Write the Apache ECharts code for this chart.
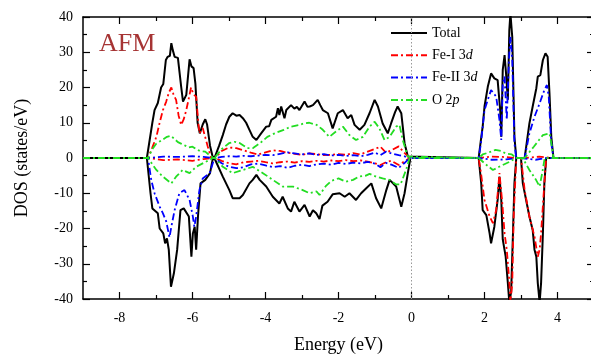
<!DOCTYPE html>
<html>
<head>
<meta charset="utf-8">
<script src="https://cdn.jsdelivr.net/npm/echarts@6/dist/echarts.min.js"></script>
<style>html,body{margin:0;padding:0;background:#fff;}#c{width:591px;height:356px;}</style>
</head>
<body>
<div id="c"></div>
<script>
// ---- tick labels ----
var xMajorTicks = [-8, -6, -4, -2, 0, 2, 4];
var xMinorTicks = [-7, -5, -3, -1, 1, 3];
var legendNames = ['Total', 'Fe-I 3d', 'Fe-II 3d', 'O 2p'];

// ---- data: [energy (eV), DOS (states/eV)] ----
var totalUp = [[-9,0],[-7.25,0],[-7.1,10],[-7.04,13.6],[-6.95,15.6],[-6.86,20],[-6.8,21],[-6.77,21.5],[-6.73,27.8],[-6.68,28.7],[-6.62,29],[-6.58,32.6],[-6.54,30.6],[-6.49,28.7],[-6.4,28.4],[-6.31,20.2],[-6.26,16],[-6.17,17.9],[-6.08,28],[-6.03,26],[-5.97,25.5],[-5.92,21],[-5.86,10],[-5.8,7],[-5.72,9.5],[-5.65,11],[-5.6,9.5],[-5.52,3.5],[-5.44,0],
 [-5.38,0.5],[-5.27,3.5],[-5.17,6.5],[-5.08,9.5],[-4.99,11.7],[-4.9,12.7],[-4.8,12.0],[-4.71,12.2],[-4.62,11.3],[-4.53,10],[-4.44,8],[-4.35,6],[-4.25,5.1],[-4.12,7],[-3.98,8.9],[-3.9,9],[-3.84,10.8],[-3.71,11.7],[-3.66,14.1],[-3.62,12.2],[-3.57,14.6],[-3.48,11.3],[-3.43,13.6],[-3.3,15],[-3.21,14],[-3.14,14.5],[-3.07,13.6],[-2.93,16],[-2.85,14.5],[-2.79,14.6],[-2.7,15],[-2.57,16.5],[-2.5,15],[-2.43,13.6],[-2.29,12.7],[-2.16,8.4],[-2.02,12.7],[-1.88,13.6],[-1.75,11.3],[-1.65,12.2],[-1.56,9.4],[-1.42,8],[-1.29,9.4],[-1.15,12.7],[-1.01,16.5],[-0.92,14.6],[-0.79,9.8],[-0.65,7],[-0.56,9.8],[-0.45,13],[-0.38,14.6],[-0.28,12.7],[-0.19,4.2],[-0.1,0.4],[-0.05,0],
 [1.84,0],[1.9,5],[1.95,8.9],[2.0,14.6],[2.09,20.2],[2.18,24],[2.27,22.6],[2.36,22.1],[2.43,13.6],[2.46,6],[2.5,25],[2.55,29.2],[2.59,24],[2.64,16.5],[2.68,36.3],[2.71,41],[2.76,34.4],[2.82,6],[2.87,0],[3.1,0],[3.23,9.8],[3.32,14.6],[3.42,19.8],[3.46,23.1],[3.53,23.5],[3.6,27.8],[3.67,29.7],[3.73,28.7],[3.78,18.4],[3.83,6],[3.89,0],[5,0]];

var totalDn = [[-9,0],[-7.25,0],[-7.15,-10],[-7.1,-14.3],[-6.95,-15.7],[-6.9,-20],[-6.8,-21.4],[-6.75,-24.2],[-6.7,-22.8],[-6.65,-26],[-6.59,-36.5],[-6.51,-32.7],[-6.42,-26],[-6.33,-14.8],[-6.24,-14.3],[-6.1,-16.6],[-6.03,-28],[-5.99,-21.4],[-5.94,-19.5],[-5.9,-26],[-5.85,-16.6],[-5.78,-7.2],[-5.65,-6.2],[-5.52,-4.3],[-5.44,0],
 [-5.38,-0.5],[-5.17,-5.3],[-4.99,-9.1],[-4.9,-11.4],[-4.71,-11.4],[-4.62,-10.5],[-4.44,-7.2],[-4.35,-6.2],[-4.25,-4.8],[-4.16,-6.2],[-3.98,-8.1],[-3.8,-11],[-3.62,-12.9],[-3.53,-11],[-3.39,-14.3],[-3.3,-15.2],[-3.21,-12.4],[-3.07,-15.2],[-2.93,-13.3],[-2.79,-16.6],[-2.7,-14.8],[-2.61,-15.7],[-2.52,-17.3],[-2.44,-13.5],[-2.3,-12.4],[-2.16,-10.3],[-1.97,-10],[-1.83,-11],[-1.7,-10],[-1.52,-11.9],[-1.38,-10],[-1.24,-8.6],[-1.1,-7.2],[-0.97,-11.4],[-0.83,-14.3],[-0.69,-9.1],[-0.6,-6.2],[-0.42,-8.1],[-0.28,-13.8],[-0.19,-10],[-0.1,-4.3],[-0.03,0],
 [1.84,0],[1.91,-7.2],[1.95,-14.8],[2.05,-16.2],[2.14,-21.4],[2.18,-24.2],[2.27,-19.5],[2.36,-11.9],[2.41,-5.3],[2.46,-11.9],[2.5,-23.1],[2.58,-28],[2.64,-35.5],[2.68,-41],[2.73,-38],[2.78,-21.4],[2.82,-7.2],[2.87,0],[3.0,0],[3.05,-7.2],[3.14,-11.9],[3.23,-16.6],[3.32,-20.4],[3.37,-26],[3.42,-28],[3.46,-35.5],[3.51,-41],[3.55,-35.5],[3.6,-21.4],[3.64,-7.2],[3.69,0],[5,0]];

var fe1Up = [[-9,0],[-7.22,0],[-7.1,3],[-6.99,6],[-6.9,10],[-6.81,13.6],[-6.72,16],[-6.65,18.5],[-6.58,20],[-6.52,18],[-6.45,16.5],[-6.38,12],[-6.31,9.4],[-6.24,11],[-6.17,13.6],[-6.1,17],[-6.04,20],[-5.97,18],[-5.9,17.4],[-5.84,10],[-5.81,7],[-5.72,8.5],[-5.67,8.9],[-5.58,3.2],[-5.49,0],
 [-5.38,0],[-5.2,2.0],[-5.0,3.0],[-4.8,2.8],[-4.6,2.2],[-4.4,1.5],[-4.2,1.0],[-4.0,1.6],[-3.8,2.2],[-3.6,2.0],[-3.4,1.5],[-3.2,1.2],[-3.0,0.9],[-2.8,1.3],[-2.6,1.1],[-2.4,0.8],[-2.2,0.9],[-2.0,1.1],[-1.8,0.9],[-1.6,1.4],[-1.4,1.0],[-1.2,1.8],[-1.0,2.6],[-0.85,3.2],[-0.7,1.5],[-0.55,2.2],[-0.35,3.3],[-0.2,1.5],[-0.05,0],
 [1.84,0],[2.2,0.4],[2.5,0.3],[2.87,0],[3.1,0],[3.5,0.4],[3.89,0],[5,0]];

var fe1Dn = [[-9,0],[-7.22,0],[-6.8,-0.6],[-6.4,-0.4],[-6.0,-0.8],[-5.7,-0.3],[-5.44,0],
 [-5.38,0],[-5.2,-0.8],[-5.0,-1.5],[-4.8,-1.8],[-4.6,-1.2],[-4.4,-1.0],[-4.2,-0.8],[-4.0,-1.2],[-3.8,-1.5],[-3.6,-1.2],[-3.4,-1.0],[-3.2,-1.3],[-3.0,-0.9],[-2.8,-1.1],[-2.6,-0.8],[-2.4,-1.0],[-2.2,-0.7],[-2.0,-0.9],[-1.8,-0.6],[-1.6,-0.9],[-1.4,-0.7],[-1.2,-1.0],[-1.0,-1.5],[-0.85,-2.0],[-0.7,-1.2],[-0.55,-0.8],[-0.35,-2.0],[-0.2,-1.0],[-0.05,0],
 [1.84,0],[1.9,-4],[2.0,-11.9],[2.14,-16.6],[2.23,-18.5],[2.32,-14.8],[2.41,-4.3],[2.48,-11.9],[2.55,-21.4],[2.61,-26],[2.67,-33.7],[2.71,-41],[2.76,-35.5],[2.8,-16.6],[2.87,0],[3.0,0],[3.1,-9.1],[3.23,-16.6],[3.37,-22.3],[3.46,-28],[3.51,-26],[3.55,-21.4],[3.64,-7.2],[3.69,0],[5,0]];

var fe2Up = [[-9,0],[-7.22,0],[-6.8,0.4],[-6.4,0.3],[-6.0,0.5],[-5.7,0.3],[-5.44,0],
 [-5.38,0],[-5.2,0.3],[-5.0,0.5],[-4.8,0.4],[-4.6,0.6],[-4.4,0.5],[-4.2,0.7],[-4.0,0.9],[-3.8,0.8],[-3.6,1.2],[-3.4,1.6],[-3.2,1.3],[-3.0,1.0],[-2.8,1.3],[-2.6,0.9],[-2.4,1.1],[-2.2,0.7],[-2.0,0.9],[-1.8,0.6],[-1.6,0.8],[-1.4,0.5],[-1.2,0.9],[-1.0,1.5],[-0.85,0.8],[-0.7,1.8],[-0.55,1.3],[-0.35,0.8],[-0.2,0.5],[-0.05,0],
 [1.84,0],[1.9,4],[2.0,13.6],[2.09,16.5],[2.18,19.3],[2.32,17.4],[2.41,10.8],[2.46,5.1],[2.5,21.2],[2.55,23.1],[2.61,10.8],[2.67,27.8],[2.71,34.4],[2.76,27.8],[2.82,4.2],[2.87,0],[3.1,0],[3.23,7],[3.37,11.7],[3.51,15.5],[3.64,19.3],[3.71,20.7],[3.76,17.4],[3.83,4.2],[3.89,0],[5,0]];

var fe2Dn = [[-9,0],[-7.22,0],[-7.13,-6.2],[-7.04,-10],[-6.9,-13.8],[-6.81,-15.7],[-6.72,-18],[-6.63,-22.5],[-6.58,-19.5],[-6.49,-14.8],[-6.36,-10],[-6.22,-9.1],[-6.08,-11.9],[-5.99,-16.6],[-5.95,-19.5],[-5.9,-16.6],[-5.81,-9.1],[-5.72,-5.8],[-5.53,-4.3],[-5.4,0],
 [-5.38,0],[-5.2,-1.5],[-5.0,-2.5],[-4.8,-2.9],[-4.6,-2.6],[-4.4,-1.8],[-4.2,-1.6],[-4.0,-2.1],[-3.8,-2.6],[-3.6,-2.3],[-3.4,-2.8],[-3.2,-2.2],[-3.0,-1.9],[-2.8,-2.3],[-2.6,-1.8],[-2.4,-1.6],[-2.2,-1.9],[-2.0,-1.4],[-1.8,-1.7],[-1.6,-1.3],[-1.4,-1.5],[-1.2,-1.1],[-1.0,-1.6],[-0.85,-2.6],[-0.7,-1.4],[-0.55,-1.9],[-0.35,-2.8],[-0.2,-1.5],[-0.05,0],
 [1.84,0],[2.2,-0.5],[2.6,-0.4],[2.87,0],[3.0,0],[3.4,-0.5],[3.69,0],[5,0]];

var o2pUp = [[-9,0],[-7.22,0],[-7.1,2.5],[-7.0,4],[-6.85,5],[-6.7,6],[-6.6,6.3],[-6.5,5.5],[-6.4,4.5],[-6.3,4],[-6.2,3.5],[-6.1,3],[-6.0,3.2],[-5.9,2.5],[-5.8,2],[-5.65,1.8],[-5.5,0.5],[-5.4,0],
 [-5.38,0],[-5.2,2.5],[-5.0,4.2],[-4.85,4.6],[-4.7,4.2],[-4.5,2.8],[-4.35,2.8],[-4.15,4.2],[-3.95,6],[-3.75,7],[-3.5,8],[-3.3,8.9],[-3.1,9.3],[-2.95,9.8],[-2.8,10],[-2.6,9.4],[-2.43,8],[-2.25,6],[-2.07,7.5],[-1.88,8.9],[-1.7,6.5],[-1.52,5.1],[-1.33,6],[-1.15,8.9],[-1.01,10.3],[-0.88,8.4],[-0.74,5.1],[-0.6,6],[-0.42,8.9],[-0.33,9.4],[-0.24,5.1],[-0.1,0.4],[-0.05,0],
 [1.84,0],[1.95,1],[2.1,1.5],[2.3,2.3],[2.45,2],[2.6,1.2],[2.75,1],[2.87,0],[3.1,0],[3.35,3.2],[3.6,6.5],[3.78,7],[3.83,4.2],[3.89,0],[5,0]];

var o2pDn = [[-9,0],[-7.22,0],[-6.99,-3.4],[-6.81,-5.3],[-6.58,-7.2],[-6.45,-5.3],[-6.27,-3.4],[-6.08,-4.3],[-5.9,-2.5],[-5.62,-1],[-5.44,0],
 [-5.38,0],[-5.17,-2.5],[-4.9,-4.3],[-4.62,-3.4],[-4.35,-2.5],[-4.07,-4.3],[-3.8,-6.2],[-3.53,-8.1],[-3.25,-8.1],[-2.98,-9.1],[-2.79,-10],[-2.6,-9.5],[-2.52,-10.5],[-2.35,-8],[-2.2,-6.5],[-2.0,-5.8],[-1.8,-6.7],[-1.6,-6.2],[-1.45,-5.3],[-1.25,-5],[-1.15,-4.5],[-0.97,-5.3],[-0.79,-5.8],[-0.6,-6.2],[-0.42,-7.5],[-0.3,-7.5],[-0.15,-3.4],[-0.05,0],
 [1.84,0],[2.0,-1.5],[2.23,-3.4],[2.4,-2.5],[2.5,-2],[2.7,-1],[2.87,0],[3.0,0],[3.1,-1],[3.23,-3.4],[3.4,-6],[3.51,-8.1],[3.58,-4.3],[3.65,0],[5,0]];

var FONT = 'Liberation Serif';
var DASHDOT = [7, 3, 2, 3];
var chart = echarts.init(document.getElementById('c'), null, {renderer: 'canvas'});

function mkSeries(name, data, color, type, width, z, extra) {
  var s = {
    name: name, type: 'line', data: data, xAxisIndex: 0, yAxisIndex: 0,
    symbol: 'none', showSymbol: false, silent: true, animation: false, z: z,
    lineStyle: {color: color, width: width, type: type},
    itemStyle: {color: color}
  };
  if (extra) for (var k in extra) s[k] = extra[k];
  return s;
}

function gridRect() {
  return {left: 83, top: 17, width: 511, height: 282, containLabel: false, outerBoundsMode: 'none'};
}

var option = {
  backgroundColor: '#fff',
  animation: false,
  grid: [gridRect(), gridRect()],
  legend: {
    data: legendNames,
    orient: 'vertical',
    left: 385, top: 21,
    itemWidth: 36, itemHeight: 14, itemGap: 8.3,
    selectedMode: false,
    itemStyle: {opacity: 0, borderWidth: 0},
    textStyle: {
      fontFamily: FONT, fontSize: 14, color: '#000',
      rich: {
        n: {fontFamily: FONT, fontSize: 14, color: '#000'},
        i: {fontFamily: FONT, fontSize: 14, color: '#000', fontStyle: 'italic'}
      }
    },
    formatter: function (name) {
      if (name === 'Fe-I 3d') return '{n|Fe-I 3}{i|d}';
      if (name === 'Fe-II 3d') return '{n|Fe-II 3}{i|d}';
      if (name === 'O 2p') return '{n|O 2}{i|p}';
      return '{n|' + name + '}';
    }
  },
  graphic: [{
    type: 'text', left: 99, top: 31,
    style: {text: 'AFM', fontFamily: FONT, fontSize: 26, fill: '#a63434'}
  }],
  xAxis: [
    {
      gridIndex: 0, type: 'value', position: 'bottom', min: -9, max: 5,
      axisLine: {show: true, onZero: false, lineStyle: {color: '#000', width: 1.5}},
      axisTick: {show: true, inside: true, length: 7, customValues: xMajorTicks, lineStyle: {color: '#000', width: 1.2}},
      axisLabel: {customValues: xMajorTicks, fontFamily: FONT, fontSize: 14, color: '#000', margin: 12},
      splitLine: {show: false},
      name: 'Energy (eV)', nameLocation: 'middle', nameGap: 37,
      nameTextStyle: {fontFamily: FONT, fontSize: 18, color: '#000'}
    },
    {
      gridIndex: 0, type: 'value', position: 'top', min: -9, max: 5,
      axisLine: {show: true, onZero: false, lineStyle: {color: '#000', width: 1.5}},
      axisTick: {show: true, inside: true, length: 7, customValues: xMajorTicks, lineStyle: {color: '#000', width: 1.2}},
      axisLabel: {show: false}, splitLine: {show: false}
    },
    {
      gridIndex: 1, type: 'value', position: 'bottom', min: -9, max: 5,
      axisLine: {show: false, onZero: false},
      axisTick: {show: true, inside: true, length: 4, customValues: xMinorTicks, lineStyle: {color: '#000', width: 1.2}},
      axisLabel: {show: false}, splitLine: {show: false}
    },
    {
      gridIndex: 1, type: 'value', position: 'top', min: -9, max: 5,
      axisLine: {show: false, onZero: false},
      axisTick: {show: true, inside: true, length: 4, customValues: xMinorTicks, lineStyle: {color: '#000', width: 1.2}},
      axisLabel: {show: false}, splitLine: {show: false}
    }
  ],
  yAxis: [
    {
      gridIndex: 0, type: 'value', position: 'left', min: -40, max: 40, interval: 10,
      axisLine: {show: true, onZero: false, lineStyle: {color: '#000', width: 1.5}},
      axisTick: {show: true, inside: true, length: 7, lineStyle: {color: '#000', width: 1.2}},
      minorTick: {show: true, splitNumber: 2, length: 4, lineStyle: {color: '#000', width: 1.2}},
      axisLabel: {fontFamily: FONT, fontSize: 14, color: '#000', margin: 10},
      splitLine: {show: false}, minorSplitLine: {show: false},
      name: 'DOS (states/eV)', nameLocation: 'middle', nameGap: 52,
      nameTextStyle: {fontFamily: FONT, fontSize: 18, color: '#000'}
    },
    {
      gridIndex: 0, type: 'value', position: 'right', min: -40, max: 40, interval: 10,
      axisLine: {show: true, onZero: false, lineStyle: {color: '#000', width: 1.5}},
      axisTick: {show: true, inside: true, length: 7, lineStyle: {color: '#000', width: 1.2}},
      minorTick: {show: true, splitNumber: 2, length: 4, lineStyle: {color: '#000', width: 1.2}},
      axisLabel: {show: false}, splitLine: {show: false}
    },
    {
      gridIndex: 1, type: 'value', min: -40, max: 40, interval: 10,
      axisLine: {show: false}, axisTick: {show: false}, axisLabel: {show: false}, splitLine: {show: false}
    }
  ],
  series: [
    mkSeries('Total', totalUp, '#000000', 'solid', 2, 2, {
      markLine: {
        silent: true, symbol: ['none', 'none'], label: {show: false},
        lineStyle: {color: '#999', type: [1.5, 2], width: 1},
        data: [{xAxis: 0}], animation: false
      }
    }),
    mkSeries('Total', totalDn, '#000000', 'solid', 2, 2),
    mkSeries('Fe-I 3d', fe1Up, '#ff0000', DASHDOT, 1.8, 3),
    mkSeries('Fe-I 3d', fe1Dn, '#ff0000', DASHDOT, 1.8, 3),
    mkSeries('Fe-II 3d', fe2Up, '#0000ff', DASHDOT, 1.8, 4),
    mkSeries('Fe-II 3d', fe2Dn, '#0000ff', DASHDOT, 1.8, 4),
    mkSeries('O 2p', o2pUp, '#22dd22', DASHDOT, 1.8, 5),
    mkSeries('O 2p', o2pDn, '#22dd22', DASHDOT, 1.8, 5)
  ]
};
chart.setOption(option);
</script>
</body>
</html>
